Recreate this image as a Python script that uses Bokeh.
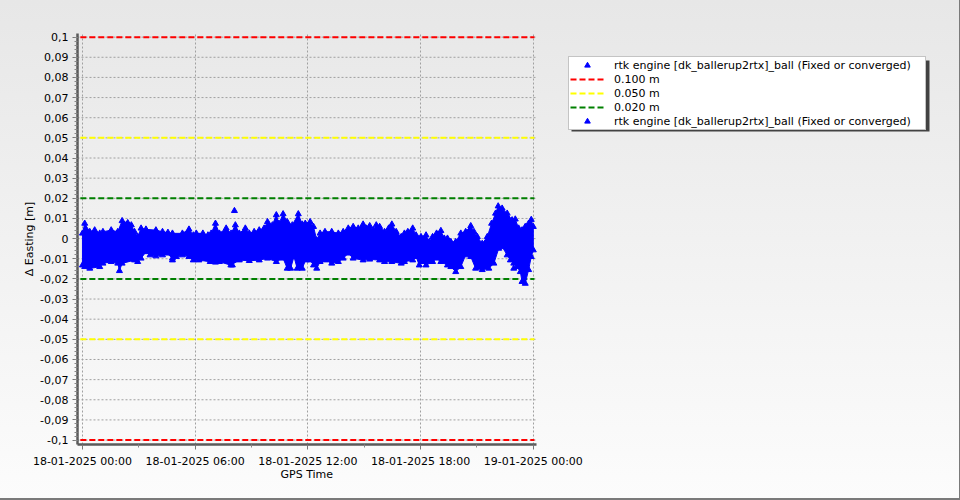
from bokeh.plotting import figure
from bokeh.models import (FixedTicker, Legend, LegendItem, BoxAnnotation, Title,
                          GlobalInlineStyleSheet, Range1d)
from bokeh.embed import file_html
from bokeh.resources import INLINE

# ---------------- data (hours since 18-01-2025 00:00, metres) ----------------
upper_t = [0.0, 0.12, 0.39, 0.65, 0.92, 1.09, 1.53, 1.88, 2.11, 2.41, 2.6, 2.77, 2.94, 3.12,
           3.38, 3.91, 4.26, 4.55, 4.79, 5.32, 5.67, 5.9, 6.06, 6.41, 6.68, 6.85, 7.08, 7.29,
           7.65, 7.91, 8.14, 8.35, 8.67, 8.88, 9.14, 9.41, 9.67, 9.85, 10.11, 10.32, 10.46,
           10.68, 10.9, 11.17, 11.49, 11.7, 11.86, 12.12, 12.3, 12.47, 12.65, 12.91, 13.27,
           13.62, 13.88, 14.15, 14.41, 14.68, 14.94, 15.12, 15.29, 15.47, 15.64, 15.82, 16.08,
           16.3, 16.47, 16.7, 16.97, 17.14, 17.32, 17.58, 17.76, 18.02, 18.29, 18.46, 18.64,
           18.85, 19.08, 19.26, 19.43, 19.61, 19.87, 20.14, 20.4, 20.67, 20.84, 21.02, 21.28,
           21.55, 21.78, 21.99, 22.13, 22.34, 22.61, 22.87, 23.04, 23.22, 23.4, 23.57, 23.75,
           23.89, 24.0]
upper_v = [0.0026, 0.0075, 0.0034, 0.0042, 0.0026, 0.0034, 0.0042, 0.0034, 0.0088, 0.0078,
           0.0067, 0.0034, 0.0009, 0.0051, 0.0046, 0.0042, 0.0034, 0.0030, 0.0026, 0.0026,
           0.0046, 0.0017, 0.0026, 0.0026, 0.0017, 0.0026, 0.0075, 0.0026, 0.0051, 0.0026,
           0.0067, 0.0026, 0.0051, 0.0026, 0.0034, 0.0042, 0.0051, 0.0083, 0.0067, 0.0117,
           0.0075, 0.0122, 0.0083, 0.0067, 0.0122, 0.0071, 0.0075, 0.0083, 0.0059, -0.0007,
           0.0026, 0.0034, 0.0034, 0.0026, 0.0034, 0.0051, 0.0059, 0.0051, 0.0071, 0.0051,
           0.0063, 0.0042, 0.0067, 0.0059, 0.0034, 0.0051, 0.0071, 0.0034, 0.0009, 0.0026,
           0.0034, 0.0051, 0.0017, 0.0009, 0.0017, -0.0016, 0.0009, 0.0026, 0.0039, 0.0001,
           0.0001, -0.0016, -0.0016, 0.0026, 0.0034, 0.0063, 0.0034, 0.0009, -0.0025, 0.0009,
           0.0075, 0.0125, 0.0161, 0.0150, 0.0125, 0.0092, 0.0096, 0.0051, 0.0042, 0.0059,
           0.0075, 0.0094, 0.0059]

lower_t = [0.0, 0.12, 0.39, 0.92, 1.09, 1.53, 1.88, 1.97, 2.11, 2.77, 2.94, 3.12, 3.38, 3.6,
           3.91, 4.26, 4.5, 4.79, 5.0, 5.32, 5.67, 5.9, 6.2, 6.8, 7.08, 7.29, 7.9, 8.35, 8.88,
           9.41, 9.85, 10.32, 10.68, 10.9, 11.08, 11.26, 11.43, 11.7, 11.88, 12.12, 12.3,
           12.47, 12.65, 12.91, 13.27, 13.62, 13.88, 14.15, 14.41, 14.94, 15.29, 15.82, 16.08,
           16.47, 16.97, 17.14, 17.58, 17.76, 17.93, 18.02, 18.29, 18.64, 18.85, 19.08, 19.43,
           19.61, 19.87, 20.14, 20.4, 20.67, 20.93, 21.28, 21.63, 21.9, 22.16, 22.34, 22.61,
           22.78, 22.96, 23.13, 23.31, 23.4, 23.57, 23.75, 23.89, 24.0]
lower_v = [-0.0132, -0.0140, -0.0148, -0.0140, -0.0123, -0.0115, -0.0123, -0.0160, -0.0123,
           -0.0107, -0.0115, -0.0098, -0.0066, -0.0082, -0.0087, -0.0082, -0.0073, -0.0098,
           -0.0090, -0.0082, -0.0090, -0.0107, -0.0107, -0.0115, -0.0118, -0.0115, -0.0132,
           -0.0107, -0.0110, -0.0107, -0.0098, -0.0115, -0.0098, -0.0148, -0.0148, -0.0090,
           -0.0148, -0.0148, -0.0107, -0.0107, -0.0132, -0.0148, -0.0115, -0.0107, -0.0123,
           -0.0115, -0.0098, -0.0073, -0.0098, -0.0107, -0.0103, -0.0107, -0.0115, -0.0115,
           -0.0123, -0.0115, -0.0107, -0.0090, -0.0132, -0.0115, -0.0132, -0.0115, -0.0098,
           -0.0115, -0.0132, -0.0140, -0.0165, -0.0140, -0.0082, -0.0090, -0.0148, -0.0155,
           -0.0148, -0.0123, -0.0049, -0.0041, -0.0082, -0.0107, -0.0123, -0.0140, -0.0165,
           -0.0214, -0.0223, -0.0155, -0.0090, -0.0057]

outlier_t = [8.09, 7.98, 4.79, 22.96]
outlier_v = [0.0138, -0.0132, -0.0107, -0.0148]

threshold_values = [0.100, 0.050, 0.020]
threshold_labels = ["0.100 m", "0.050 m", "0.020 m"]
threshold_colors = ["#ff0000", "#ffff00", "#008000"]

series_label = "rtk engine [dk_ballerup2rtx]_ball (Fixed or converged)"

x_tick_hours = [0, 6, 12, 18, 24]
x_tick_labels = ["18-01-2025 00:00", "18-01-2025 06:00", "18-01-2025 12:00",
                 "18-01-2025 18:00", "19-01-2025 00:00"]
x_minor_hours = [3, 9, 15, 21]
y_tick_values = [0.1, 0.09, 0.08, 0.07, 0.06, 0.05, 0.04, 0.03, 0.02, 0.01, 0.0,
                 -0.01, -0.02, -0.03, -0.04, -0.05, -0.06, -0.07, -0.08, -0.09, -0.1]

# ---------------- figure ----------------
X_LO, X_END = -0.264, 24.16      # extent of the drawn chart area
X_HI = 45.25                     # frame extends under the legend
Y_LO, Y_HI = -0.1022, 0.1018
FONT = "DejaVu Sans"

p = figure(width=952, height=492, output_backend="svg", toolbar_location=None,
           x_range=Range1d(X_LO, X_HI), y_range=Range1d(Y_LO, Y_HI),
           min_border_left=77, min_border_right=20, min_border_top=33, min_border_bottom=48)

p.border_fill_alpha = 0
p.background_fill_alpha = 0
p.outline_line_color = None

p.stylesheets = [GlobalInlineStyleSheet(css=
    "html{height:100%;background:linear-gradient(#e7e7e7,#fcfcfc);}"
    "body::after{content:'';position:fixed;left:0;top:0;right:0;bottom:0;"
    "border-right:1px solid #7a7a7a;border-bottom:2px solid #7a7a7a;pointer-events:none;}")]

# axes
for ax in (p.xaxis[0], p.yaxis[0]):
    ax.axis_line_color = "#5a5a5a"
    ax.axis_line_width = 2.5
    ax.major_tick_line_color = "#777777"
    ax.minor_tick_line_color = "#888888"
    ax.major_tick_out = 5
    ax.major_tick_in = 0
    ax.minor_tick_out = 3
    ax.minor_tick_in = 0
    ax.major_label_text_font = FONT
    ax.major_label_text_font_size = "11px"
    ax.major_label_text_color = "#000000"
    ax.axis_label_text_font = FONT
    ax.axis_label_text_font_size = "11px"
    ax.axis_label_text_font_style = "normal"
    ax.axis_label_text_color = "#000000"

minor_y = [round(-0.1 + 0.002 * i, 4) for i in range(101)]
p.yaxis.ticker = FixedTicker(ticks=y_tick_values, minor_ticks=minor_y)
p.yaxis.major_label_overrides = {v: ("0" if v == 0 else ("%g" % v).replace(".", ",")) for v in y_tick_values}
p.yaxis.major_label_standoff = 4
p.yaxis.axis_label = "Δ Easting [m]"
p.yaxis.axis_label_standoff = 1

p.xaxis.ticker = FixedTicker(ticks=x_tick_hours, minor_ticks=x_minor_hours)
p.xaxis.major_label_overrides = dict(zip(x_tick_hours, x_tick_labels))
p.xaxis.major_label_standoff = 5
p.xaxis.bounds = (X_LO, X_END)

# x axis title, centred under the chart area (not the whole frame)
xtitle = Title(text="GPS Time", align="left", offset=203, standoff=-5,
               vertical_align="top",
               text_font=FONT, text_font_size="11px", text_font_style="normal",
               text_color="#000000")
p.add_layout(xtitle, "below")

# grid: vertical lines at the x ticks, horizontal lines only across the chart area
p.xgrid.grid_line_color = "#a0a0a0"
p.xgrid.grid_line_dash = "2 2"
p.xgrid.ticker = FixedTicker(ticks=x_tick_hours)
p.ygrid.visible = False
p.multi_line(xs=[[X_LO, X_END] for _ in y_tick_values], ys=[[v, v] for v in y_tick_values],
             line_color="#a0a0a0", line_dash="2 2", line_width=1)

# threshold lines
thr_renderers = []
for v, c in zip(threshold_values, threshold_colors):
    r = p.multi_line(xs=[[X_LO + 0.15, X_END - 0.1], [X_LO + 0.15, X_END - 0.1]],
                     ys=[[v, v], [-v, -v]],
                     line_color=c, line_width=2, line_dash="6 3")
    thr_renderers.append(r)

# data band
band_x = upper_t + lower_t[::-1]
band_y = upper_v + lower_v[::-1]
p.patch(band_x, band_y, fill_color="#0000ff", line_color="#0000ff", line_width=1)
r_main = p.scatter(upper_t + lower_t, upper_v + lower_v, marker="triangle", size=6,
                   fill_color="#0000ff", line_color="#0000ff")
r_out = p.scatter(outlier_t, outlier_v, marker="triangle", size=6,
                  fill_color="#0000ff", line_color="#0000ff")

# legend with a drop shadow (screen units relative to the frame, y upward)
shadow = BoxAnnotation(left=494, right=852, top=384, bottom=313,
                       left_units="screen", right_units="screen",
                       top_units="screen", bottom_units="screen",
                       fill_color="#303030", fill_alpha=0.9, line_color=None)
p.add_layout(shadow)

items = [LegendItem(label=series_label, renderers=[r_main])]
for lab, r in zip(threshold_labels, thr_renderers):
    items.append(LegendItem(label=lab, renderers=[r]))
items.append(LegendItem(label=series_label, renderers=[r_out]))

legend = Legend(items=items, location=(491, 314), orientation="vertical",
                background_fill_color="#ffffff", background_fill_alpha=1,
                border_line_color="#8a8a8a", border_line_width=1,
                padding=1, margin=0, spacing=0,
                glyph_width=34, glyph_height=14, label_height=14, label_standoff=10,
                label_width=310,
                label_text_font=FONT, label_text_font_size="11px",
                label_text_color="#000000")
p.add_layout(legend)

open("out.html", "w").write(file_html(p, INLINE))
